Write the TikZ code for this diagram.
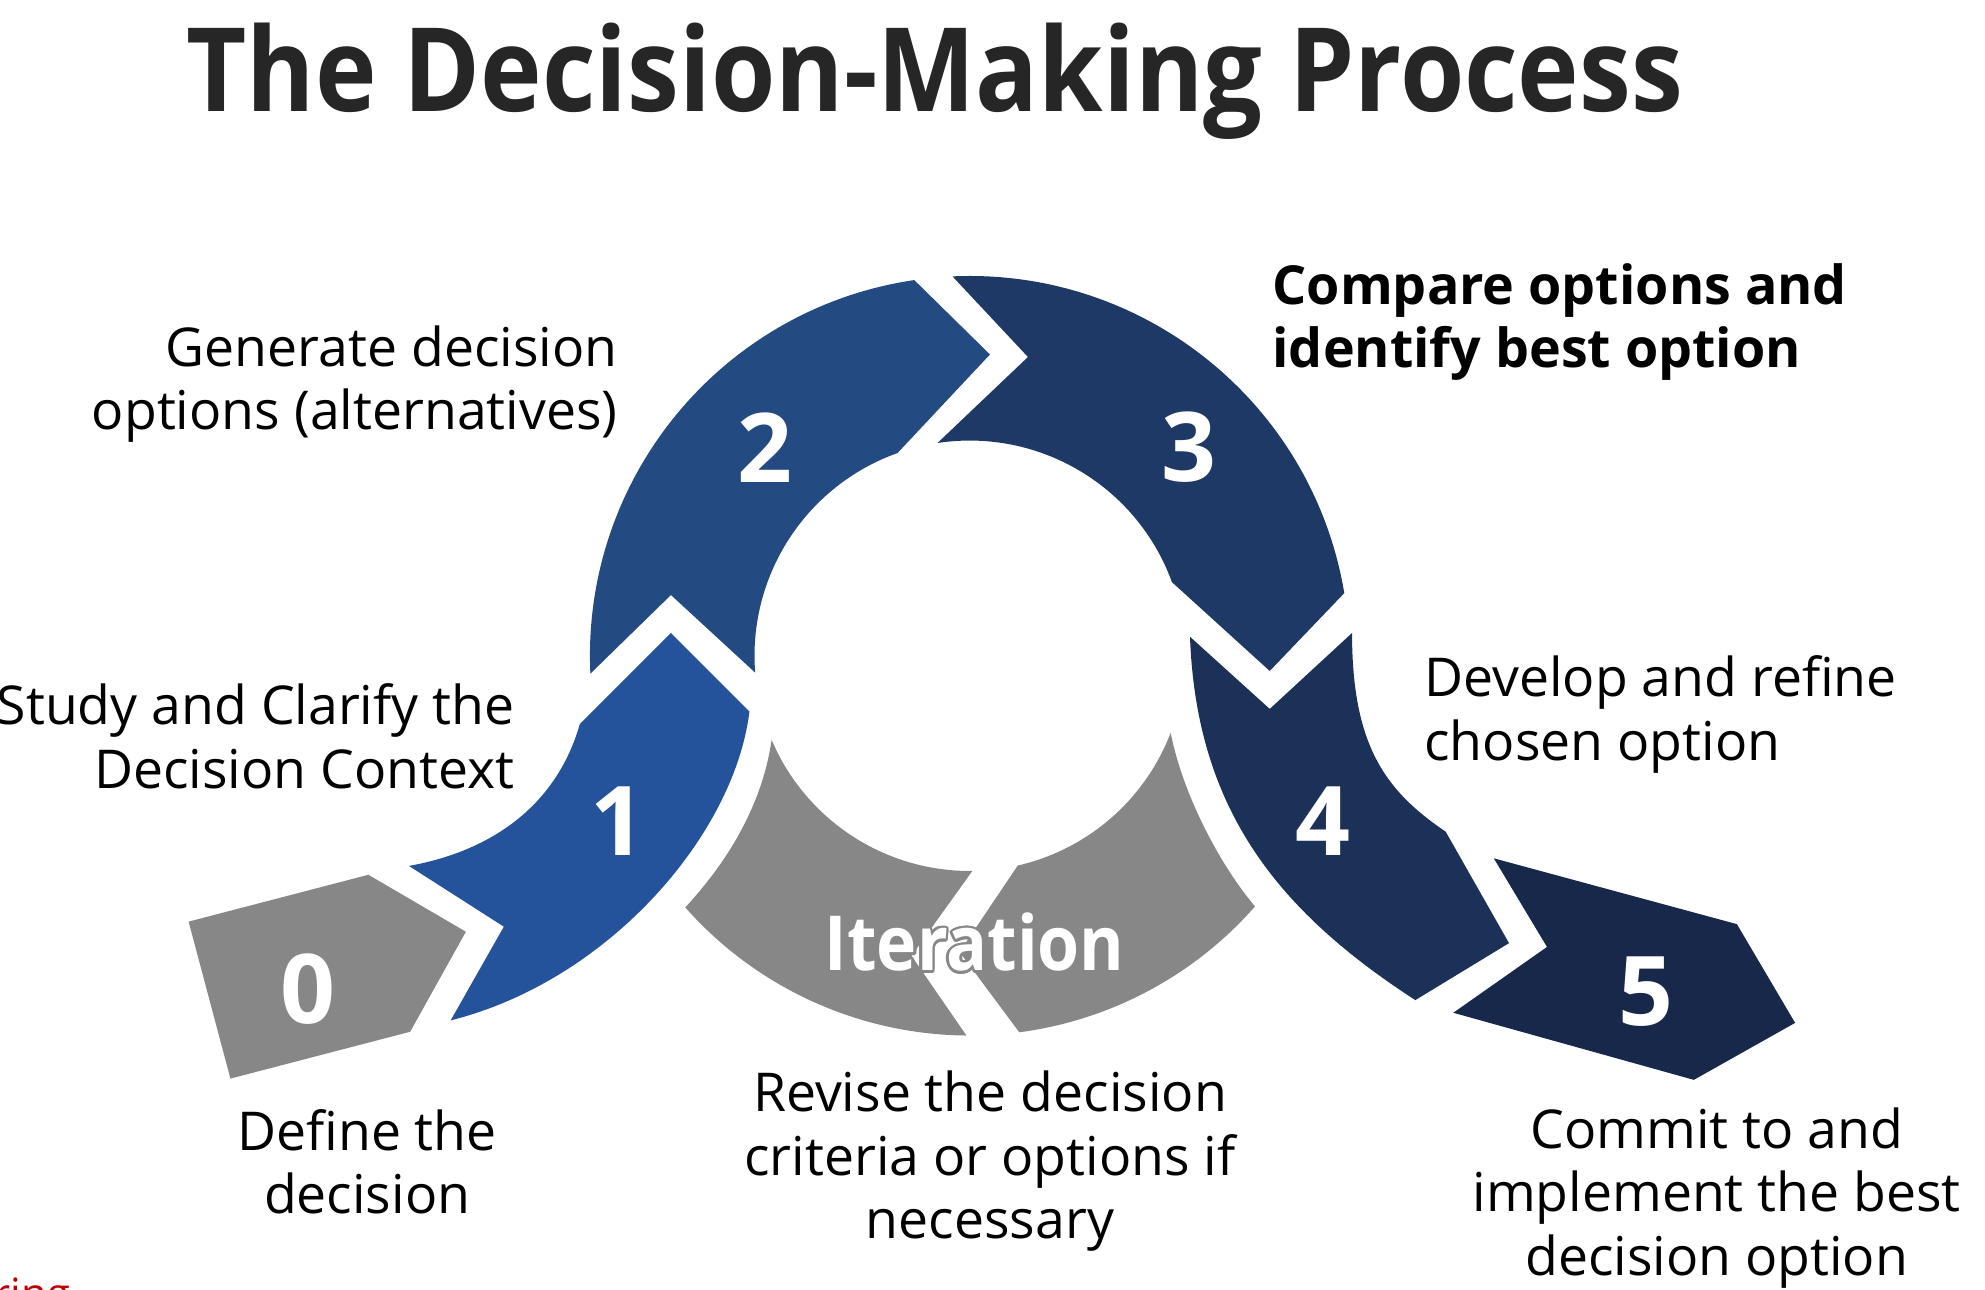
\documentclass[tikz,border=0pt]{standalone}
\usepackage{fontspec}
\setmainfont{Open Sans}
\usetikzlibrary{calc}
\definecolor{cgray}{HTML}{878787}
\definecolor{cone}{HTML}{24539B}
\definecolor{ctwo}{HTML}{234A81}
\definecolor{cthree}{HTML}{1E3965}
\definecolor{cfour}{HTML}{1B3158}
\definecolor{cfive}{HTML}{17284A}
\definecolor{ctitle}{HTML}{262626}
\definecolor{cred}{HTML}{C00000}
\begin{document}
\begin{tikzpicture}[x=1pt,y=-1pt,
  lbl/.style={inner sep=0,font=\fontsize{42.3}{50}\selectfont,text=black},
  num/.style={inner sep=0,text=white,font=\fontsize{76}{80}\selectfont\bfseries},
  itx/.style={inner sep=0,font=\fontsize{60}{64}\selectfont\bfseries},
]
\useasboundingbox (0,0) rectangle (1568,1019);
\clip (0,0) rectangle (1568,1019);
\coordinate (O) at (766,518);
\def\ri{170}
\def\ro{300}

% step 0
\fill[cgray] (149,728) -- (291,691) -- (368,736) -- (324,815) -- (182,852) -- cycle;
% step 1
\fill[cone] (530,500) -- (592,562) .. controls (580,660) and (480,775) .. (356,806)
  -- (398,732) -- (323,684) .. controls (390,672) and (440,635) .. (458,572) -- cycle;
% step 2
\fill[ctwo] ($(O)+(177.3:\ro)$) arc[start angle=177.3,end angle=261.6,radius=\ro]
  -- (782,280) -- ($(O)+(250.4:\ri)$) arc[start angle=250.4,end angle=175.5,radius=\ri]
  -- (530,470) -- cycle;
% step 3
\fill[cthree] ($(O)+(267.4:\ro)$) arc[start angle=267.4,end angle=350.5,radius=\ro]
  -- (1003,530) -- ($(O)+(340:\ri)$) arc[start angle=340,end angle=261.4,radius=\ri]
  -- (812,282) -- cycle;
% step 4
\fill[cfour] (940,503) -- (1003,560) -- (1068,500) .. controls (1068,590) and (1095,625) .. (1142,657)
  -- (1192,745) -- (1118,790) .. controls (1010,720) and (945,640) .. (940,503) -- cycle;
% step 5
\fill[cfive] (1180,678) -- (1372,730) -- (1418,808) -- (1338,853) -- (1148,800) -- (1222,748) -- cycle;
% iteration left
\fill[cgray] ($(O)+(157:\ri)$) .. controls (603,630) and (580,675) .. ($(O)+(138.5:\ro)$)
  arc[start angle=138.5,end angle=90.5,radius=\ro] -- (720,755)
  -- ($(O)+(89.3:\ri)$) arc[start angle=89.3,end angle=157,radius=\ri] -- cycle;
% iteration right
\fill[cgray] ($(O)+(77.1:\ri)$) -- (758,752) -- ($(O)+(82.5:\ro)$)
  arc[start angle=82.5,end angle=41.3,radius=\ro] .. controls (965,685) and (935,630) .. ($(O)+(21:\ri)$)
  arc[start angle=21,end angle=77.1,radius=\ri] -- cycle;

% numbers
\node[num] (n0) at (243,781) {0};
\node[num] (n1) at (488,649) {1};
\node[num] (n2) at (604,354) {2};
\node[num] (n3) at (939,353) {3};
\node[num] (n4) at (1045,649) {4};
\node[num] (n5) at (1300,783) {5};
\coordinate (it) at (770,744.5);
\foreach \a in {0,30,...,330}
  \node[itx,text=cgray] (itsh\a) at ($(it)+(\a:2.2)$) {\scalebox{0.895}[1]{Iteration}};
\node[itx,text=white] (iter) at (it) {\scalebox{0.895}[1]{Iteration}};

% title
\node[inner sep=0,anchor=base,text=ctitle,font=\fontsize{92}{96}\selectfont\bfseries] (title) at (738.5,88)
  {\scalebox{0.894}[1]{The Decision-Making Process}};

% labels
\node[lbl,align=right,anchor=north east] (l2) at (488,257) {Generate decision\\options (alternatives)};
\node[lbl,align=right,anchor=north east] (l1) at (406.5,540) {Study and Clarify the\\Decision Context};
\node[lbl,align=center,anchor=north] (l0) at (290,876) {Define the\\decision};
\node[lbl,align=center,anchor=north] (lit) at (782,846) {Revise the decision\\criteria or options if\\necessary};
\node[lbl,align=center,anchor=north] (l5) at (1356,875) {Commit to and\\implement the best\\decision option};
\node[lbl,align=left,anchor=north west] (l4) at (1125,518) {Develop and refine\\chosen option};
\node[lbl,align=left,anchor=north west,font=\fontsize{42.5}{50}\selectfont\bfseries] (l3) at (1005,208) {Compare options and\\identify best option};
\node[inner sep=0,anchor=base west,text=cred,font=\fontsize{33}{36}\selectfont] (frag) at (-5,1033.5) {ring};
\end{tikzpicture}
\end{document}
